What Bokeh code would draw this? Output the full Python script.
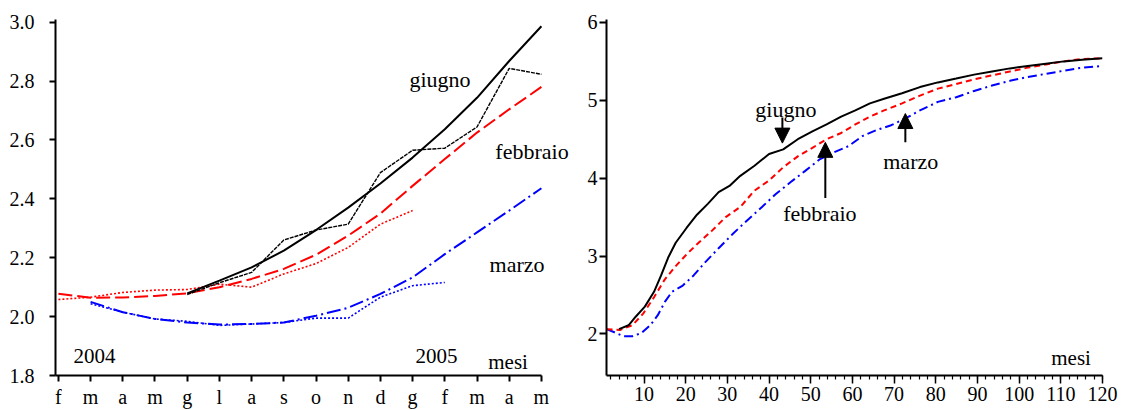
from bokeh.plotting import figure
from bokeh.layouts import row
from bokeh.models import (Range1d, FixedTicker, PrintfTickFormatter, Label, Arrow, NormalHead)
from bokeh.embed import file_html
from bokeh.resources import INLINE

FONT = "Liberation Serif"

# ---------------- left panel data ----------------
month_labels = ["f", "m", "a", "m", "g", "l", "a", "s", "o", "n", "d", "g", "f", "m", "a", "m"]
month_idx = list(range(16))

giugno_x = list(range(4, 16))
giugno_prev = [2.079, 2.122, 2.167, 2.224, 2.294, 2.37, 2.452, 2.54, 2.636, 2.743, 2.868, 2.986]
giugno_eff = [2.075, 2.115, 2.15, 2.26, 2.294, 2.314, 2.489, 2.565, 2.572, 2.644, 2.843, 2.823]

febbraio_x = list(range(0, 16))
febbraio_prev = [2.078, 2.064, 2.065, 2.07, 2.079, 2.10, 2.128, 2.162, 2.21, 2.275, 2.35, 2.444,
                 2.535, 2.625, 2.704, 2.78]
febbraio_eff_x = list(range(0, 12))
febbraio_eff = [2.058, 2.066, 2.082, 2.09, 2.092, 2.11, 2.10, 2.145, 2.18, 2.235, 2.314, 2.36]

marzo_x = list(range(1, 16))
marzo_prev = [2.05, 2.015, 1.992, 1.98, 1.973, 1.975, 1.98, 2.003, 2.03, 2.077, 2.133, 2.212,
              2.286, 2.36, 2.436]
marzo_eff_x = list(range(1, 13))
marzo_eff = [2.044, 2.015, 1.992, 1.984, 1.97, 1.975, 1.98, 1.995, 1.995, 2.066, 2.105, 2.116]

left_yticks = [1.8, 2.0, 2.2, 2.4, 2.6, 2.8, 3.0]

# ---------------- right panel data ----------------
r_giugno_x = [4, 6.3, 8, 10.2, 12.4, 14.1, 15.8, 17.6, 20.2, 22.7, 25.3, 27.9, 30.5, 33.1, 36.5, 40,
              43.4, 46.9, 50.4, 53.8, 57.3, 60.7, 64.2, 67.6, 71.9, 76.2, 80.5, 84.9, 89.2, 93.5,
              97.8, 102.1, 106.4, 110.7, 115.1, 120]
r_giugno = [2.06, 2.11, 2.22, 2.35, 2.54, 2.75, 2.98, 3.17, 3.36, 3.53, 3.67, 3.82, 3.90, 4.03, 4.16,
            4.31, 4.37, 4.50, 4.60, 4.69, 4.79, 4.87, 4.96, 5.02, 5.09, 5.17, 5.23, 5.28, 5.33, 5.37,
            5.41, 5.44, 5.47, 5.50, 5.52, 5.54]

r_febbraio_x = [1, 4.2, 7.2, 9.8, 12.4, 15, 17.6, 20.2, 22.7, 26.2, 29.6, 33.1, 36.5, 40, 43.4, 46.9,
                50.4, 53.8, 57.3, 60.7, 64.2, 67.6, 71.9, 76.2, 80.5, 84.9, 89.2, 93.5, 97.8, 102.1,
                106.4, 110.7, 115.1, 120]
r_febbraio = [2.06, 2.05, 2.11, 2.26, 2.47, 2.70, 2.87, 3.02, 3.15, 3.32, 3.50, 3.63, 3.84, 3.97,
              4.14, 4.28, 4.39, 4.50, 4.58, 4.69, 4.79, 4.87, 4.96, 5.06, 5.15, 5.21, 5.27, 5.32,
              5.37, 5.42, 5.46, 5.50, 5.53, 5.54]

r_marzo_x = [1, 2.9, 5.1, 7.2, 9.4, 11.5, 13.3, 15, 16.7, 19.3, 21.9, 24.5, 27.9, 31.4, 34.8, 38.3,
             41.7, 45.2, 48.6, 52.1, 55.5, 59, 62.4, 65.9, 69.3, 72.8, 76.2, 80.5, 84.9, 89.2, 93.5,
             97.8, 102.1, 106.4, 110.7, 115.1, 120]
r_marzo = [2.06, 2.02, 1.97, 1.97, 2.01, 2.11, 2.24, 2.41, 2.54, 2.62, 2.75, 2.91, 3.10, 3.29, 3.46,
           3.63, 3.80, 3.95, 4.09, 4.24, 4.33, 4.41, 4.54, 4.62, 4.68, 4.77, 4.87, 4.98, 5.04, 5.12,
           5.19, 5.25, 5.30, 5.34, 5.38, 5.42, 5.44]

right_xticks = list(range(10, 121, 10))
right_xminor = list(range(2, 121, 2))
right_yticks = [2, 3, 4, 5, 6]


def style_axes(p):
    for ax in (p.xaxis[0], p.yaxis[0]):
        ax.axis_line_width = 2
        ax.axis_line_color = "black"
        ax.major_tick_line_color = "black"
        ax.major_tick_line_width = 2
        ax.major_tick_in = 0
        ax.major_label_text_font = FONT
        ax.major_label_text_font_size = "20px"
        ax.major_label_text_color = "black"
    p.xgrid.visible = False
    p.ygrid.visible = False
    p.outline_line_color = None
    p.background_fill_color = "white"
    p.border_fill_color = "white"


def label(p, x, y, text, size="22px"):
    p.add_layout(Label(x=x, y=y, text=text, text_font=FONT, text_font_size=size,
                       text_color="black", text_align="left", text_baseline="middle"))


# ---------------- left figure ----------------
p1 = figure(width=578, height=410, output_backend="svg", toolbar_location=None,
            x_range=Range1d(-0.09, 16.09), y_range=Range1d(1.8, 3.009),
            min_border_left=55, min_border_right=2, min_border_top=19, min_border_bottom=34)
style_axes(p1)
p1.xaxis.bounds = (-0.09, 15)
p1.xaxis.ticker = FixedTicker(ticks=month_idx)
p1.xaxis.major_label_overrides = {i: lab for i, lab in enumerate(month_labels)}
p1.xaxis.minor_tick_line_color = None
p1.xaxis.major_tick_out = 6
p1.xaxis.major_label_standoff = 4
p1.yaxis.ticker = FixedTicker(ticks=left_yticks)
p1.yaxis.formatter = PrintfTickFormatter(format="%.1f")
p1.yaxis.minor_tick_line_color = None
p1.yaxis.major_tick_out = 6
p1.yaxis.major_label_standoff = 15

p1.line(febbraio_x, febbraio_prev, line_color="red", line_width=2, line_dash="14 5")
p1.line(febbraio_eff_x, febbraio_eff, line_color="red", line_width=1.6, line_dash="2 2")
p1.line(marzo_x, marzo_prev, line_color="blue", line_width=2, line_dash="14 4 2 4")
p1.line(marzo_eff_x, marzo_eff, line_color="blue", line_width=1.6, line_dash="2 2")
p1.line(giugno_x, giugno_prev, line_color="black", line_width=2)
p1.line(giugno_x, giugno_eff, line_color="black", line_width=1.4, line_dash="4 1")

label(p1, 10.9, 2.804, "giugno")
label(p1, 13.57, 2.560, "febbraio")
label(p1, 13.39, 2.178, "marzo")
label(p1, 0.47, 1.867, "2004", size="21px")
label(p1, 11.09, 1.867, "2005", size="21px")
label(p1, 13.35, 1.847, "mesi", size="21px")

# ---------------- right figure ----------------
p2 = figure(width=546, height=410, output_backend="svg", toolbar_location=None,
            x_range=Range1d(1, 120), y_range=Range1d(1.465, 6.038),
            min_border_left=28, min_border_right=22, min_border_top=18, min_border_bottom=33)
style_axes(p2)
p2.xaxis.ticker = FixedTicker(ticks=right_xticks, minor_ticks=right_xminor)
p2.xaxis.major_tick_out = 8
p2.xaxis.major_tick_line_width = 1.5
p2.xaxis.minor_tick_out = 4
p2.xaxis.minor_tick_in = 0
p2.xaxis.minor_tick_line_color = "black"
p2.xaxis.minor_tick_line_width = 1.2
p2.xaxis.major_label_standoff = 3
p2.yaxis.ticker = FixedTicker(ticks=right_yticks)
p2.yaxis.minor_tick_line_color = None
p2.yaxis.major_tick_out = 7
p2.yaxis.major_label_standoff = 2

p2.line(r_marzo_x, r_marzo, line_color="blue", line_width=2, line_dash="9 4 2 4")
p2.line(r_febbraio_x, r_febbraio, line_color="red", line_width=2, line_dash="6 4")
p2.line(r_giugno_x, r_giugno, line_color="black", line_width=2)

label(p2, 36.7, 4.876, "giugno")
label(p2, 43.4, 3.541, "febbraio")
label(p2, 67.4, 4.216, "marzo")
label(p2, 107.7, 1.694, "mesi", size="21px")

for xs, ys, xe, ye in [(43.2, 4.78, 43.2, 4.45), (53.5, 3.745, 53.5, 4.46), (72.7, 4.46, 72.7, 4.83)]:
    p2.add_layout(Arrow(end=NormalHead(size=15, fill_color="black", line_color="black"),
                        x_start=xs, y_start=ys, x_end=xe, y_end=ye,
                        line_color="black", line_width=2))

layout = row(p1, p2)
open("out.html", "w").write(file_html(layout, INLINE))
